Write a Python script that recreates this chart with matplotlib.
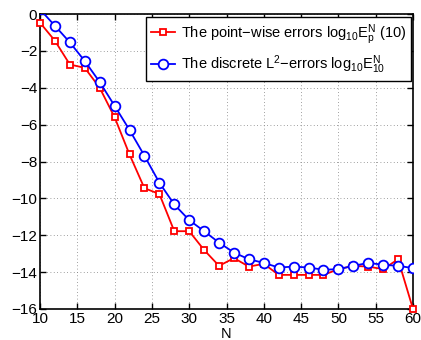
import numpy as np
import matplotlib
matplotlib.use("Agg")
import matplotlib.pyplot as plt

plt.rcParams["font.family"] = ["Liberation Sans", "DejaVu Sans"]
plt.rcParams["mathtext.fontset"] = "custom"
plt.rcParams["mathtext.rm"] = "Liberation Sans"
plt.rcParams["mathtext.it"] = "Liberation Sans"
plt.rcParams["font.size"] = 8.5

N = np.arange(10, 61, 2)

# point-wise errors log10 E_p^N(10)
pointwise = [-0.47, -1.45, -2.74, -2.92, -4.0, -5.6, -7.62, -9.45, -9.76, -11.78,
             -11.78, -12.8, -13.66, -13.24, -13.7, -13.55, -14.15, -14.15, -14.15, -14.15,
             -13.84, -13.66, -13.7, -13.84, -13.3, -16.0]
# discrete L2 errors log10 E_10^N
discrete = [0.25, -0.64, -1.54, -2.55, -3.69, -4.98, -6.29, -7.69, -9.15, -10.33,
            -11.18, -11.78, -12.4, -12.94, -13.3, -13.5, -13.75, -13.7, -13.75, -13.87,
            -13.84, -13.66, -13.5, -13.6, -13.66, -13.78]

fig = plt.figure(figsize=(4.21, 3.40), dpi=100)
ax = fig.add_axes([40 / 421, 1 - 309 / 340, 373 / 421, 295 / 340])

ax.plot(N, pointwise, "-s", color="red", lw=1.3, ms=5, mfc="white", mec="red", mew=1.3,
        clip_on=False, zorder=3,
        label=r"The point$-$wise errors $\mathrm{log}_{10}\mathrm{E}_\mathrm{p}^\mathrm{N}$ (10)")
ax.plot(N, discrete, "-o", color="blue", lw=1.3, ms=7, mfc="white", mec="blue", mew=1.3,
        clip_on=True, zorder=4,
        label=r"The discrete L$^2$$-$errors $\mathrm{log}_{10}\mathrm{E}_{10}^\mathrm{N}$")

ax.set_xlim(10, 60)
ax.set_ylim(-16, 0)
ax.set_xticks(np.arange(10, 61, 5))
ax.set_yticks(np.arange(-16, 1, 2))
ax.set_xlabel("N", labelpad=1, fontsize=10.5)
ax.grid(True, ls=(0, (1, 3)), color="0.5", lw=0.6)
ax.tick_params(direction="in", length=4, width=1, top=True, right=True, pad=2,
               labelsize=11)
for s in ax.spines.values():
    s.set_linewidth(1.2)

leg = ax.legend(loc="upper right", bbox_to_anchor=(0.995, 0.99), fancybox=False,
                edgecolor="black", framealpha=1, fontsize=10.5, handlelength=1.6,
                handletextpad=0.4, borderaxespad=0.0, labelspacing=0.45,
                borderpad=0.35)
leg.get_frame().set_linewidth(1.0)

fig.savefig("out.png", dpi=100)
